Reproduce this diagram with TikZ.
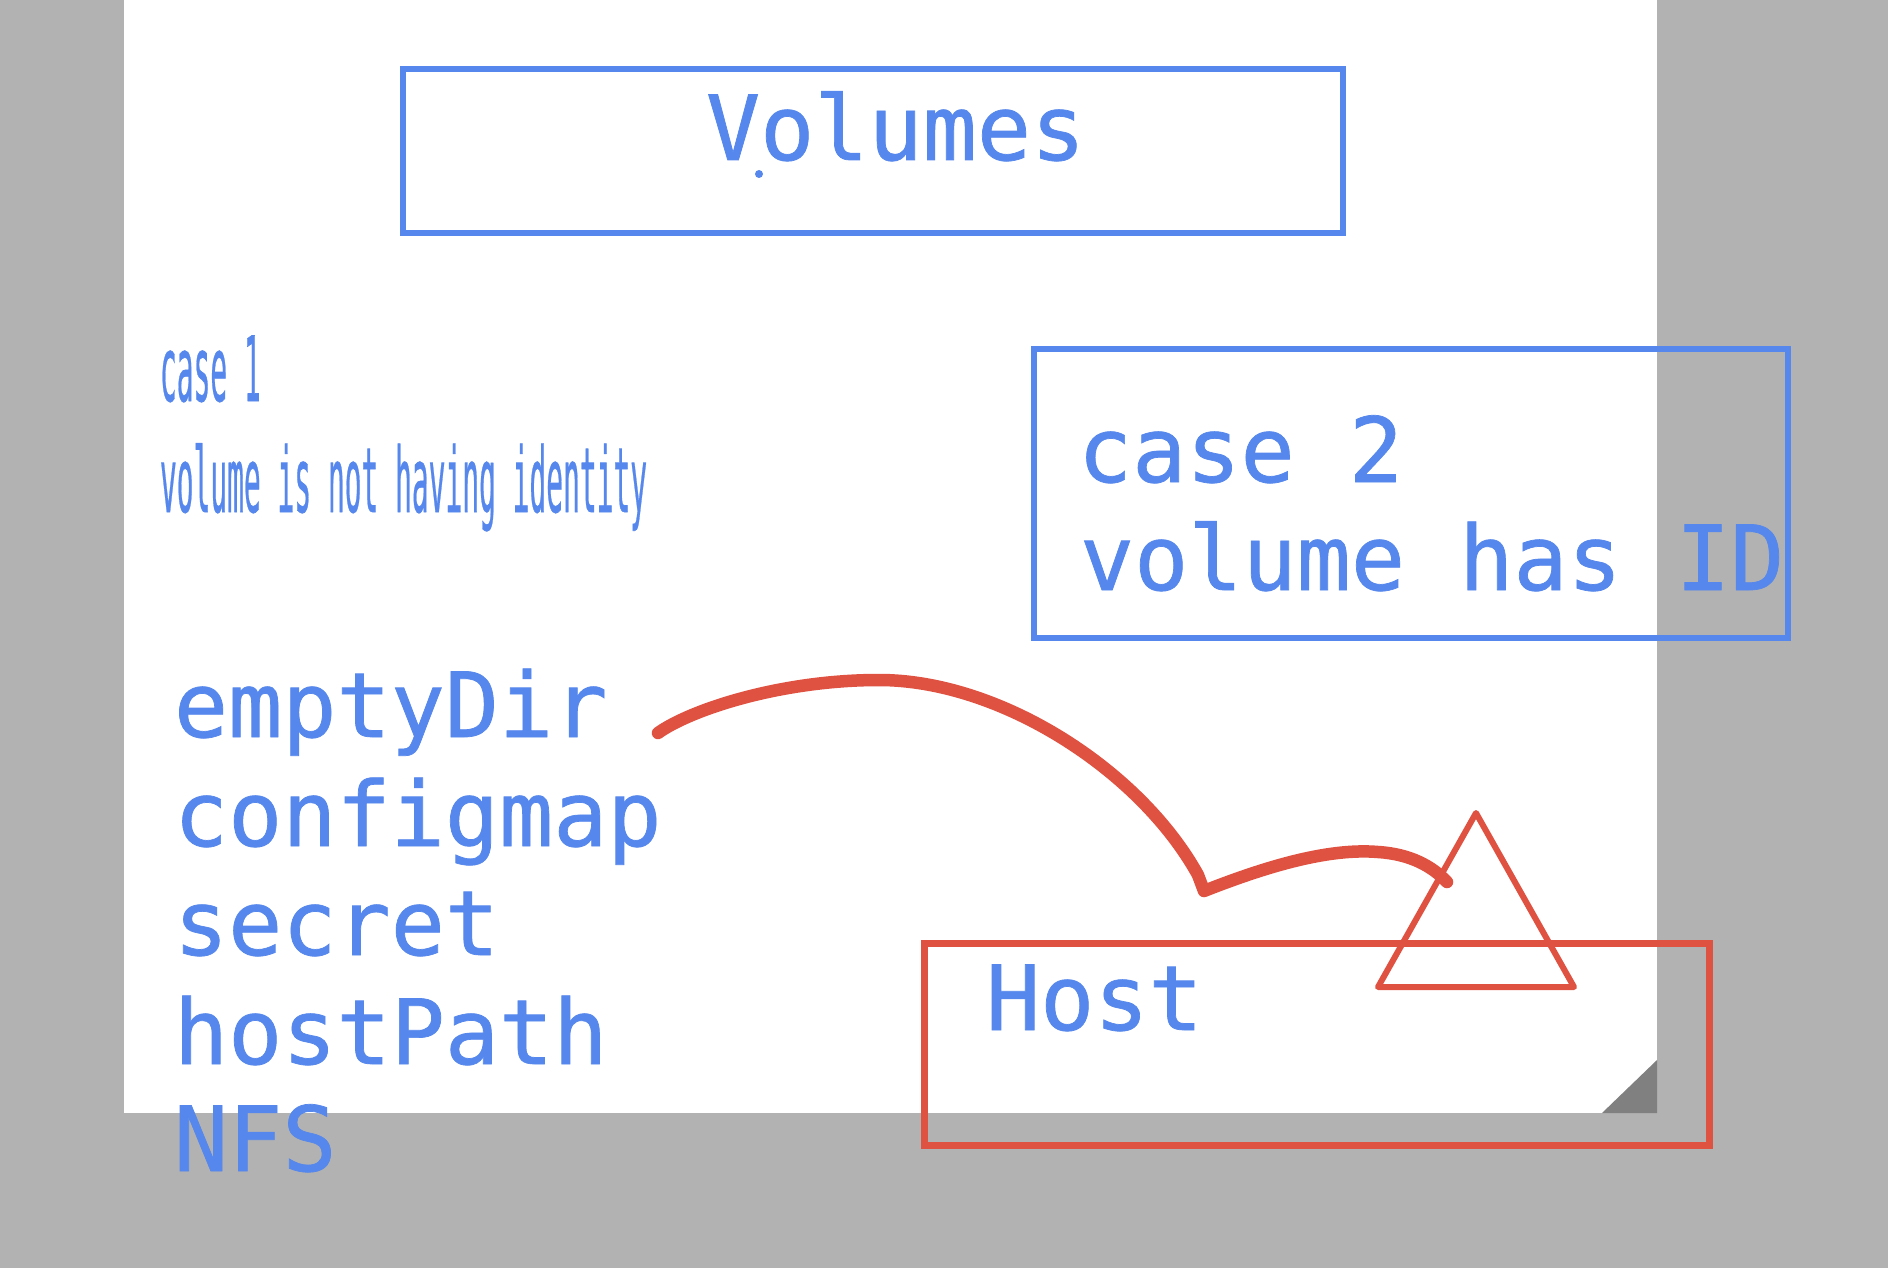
\documentclass[tikz,border=0pt]{standalone}
\usepackage{fontspec}
\setmonofont[FakeBold=0.8]{DejaVu Sans Mono}
\usepackage{graphicx}
\definecolor{vblue}{HTML}{5587EC}
\definecolor{vred}{HTML}{DF5242}
\definecolor{bggray}{HTML}{B2B2B2}
\definecolor{foldgray}{HTML}{808080}
\begin{document}
\begin{tikzpicture}[x=1pt,y=-1pt,
  lbl/.style={font=\ttfamily\fontsize{90}{108}\selectfont, text=vblue, anchor=base west, inner sep=0pt, outer sep=0pt},
  bluebox/.style={draw=vblue, line width=6pt, inner sep=0pt},
  redbox/.style={draw=vred, line width=7pt, inner sep=0pt},
  stroke/.style={draw=vred, line width=12.5pt, line cap=round, line join=round},
  tri/.style={draw=vred, line width=6pt, line join=round}
]
\useasboundingbox (0,0) rectangle (1888,1268);
% background and page
\fill[bggray] (0,0) rectangle (1888,1268);
\fill[white] (124,0) rectangle (1657,1113);
\fill[foldgray] (1602,1113) -- (1657,1113) -- (1657,1060) -- cycle;

% boxes
\node[bluebox, minimum width=940pt, minimum height=164pt] (volbox) at (873,151) {};
\node[bluebox, minimum width=754pt, minimum height=289pt] (case2box) at (1411,493.5) {};
\node[redbox, minimum width=785pt, minimum height=202pt] (hostbox) at (1316.5,1044) {};

% title
\node[lbl] (vol) at (706,160) {Volumes};
\fill[vblue] (759,174) circle (4pt);

% case 1 (condensed)
\node[lbl] (c1a) at (160,401) {\scalebox{0.31}[1]{case 1}};
\node[lbl] (c1b) at (160,512) {\scalebox{0.31}[1]{volume is not having identity}};

% case 2
\node[lbl] (c2a) at (1078,482) {case 2};
\node[lbl] (c2b) at (1080,590) {volume has ID};

% list
\node[lbl] (l1) at (174,737) {emptyDir};
\node[lbl] (l2) at (174,846) {configmap};
\node[lbl] (l3) at (174,955) {secret};
\node[lbl] (l4) at (174,1064) {hostPath};
\node[lbl] (l5) at (174,1171) {NFS};

% host
\node[lbl] (host) at (986,1030) {Host};

% hand drawn stroke
\coordinate (cstart) at (658,733);
\coordinate (cpeak) at (879,680);
\coordinate (ckink1) at (1198,875);
\coordinate (ckink2) at (1204,891);
\coordinate (cmid) at (1378,852);
\coordinate (cend) at (1447,882);
\draw[stroke] (cstart) .. controls (690,710) and (780,680) .. (cpeak)
  .. controls (1000,680) and (1140,770) .. (ckink1) -- (ckink2)
  .. controls (1270,865) and (1330,848) .. (cmid)
  .. controls (1410,854) and (1432,866) .. (cend);

% triangle
\coordinate (tapex) at (1476,813);
\coordinate (tleft) at (1378,987);
\coordinate (tright) at (1574,987);
\draw[tri] (tapex) -- (tleft) -- (tright) -- cycle;
\end{tikzpicture}
\end{document}
